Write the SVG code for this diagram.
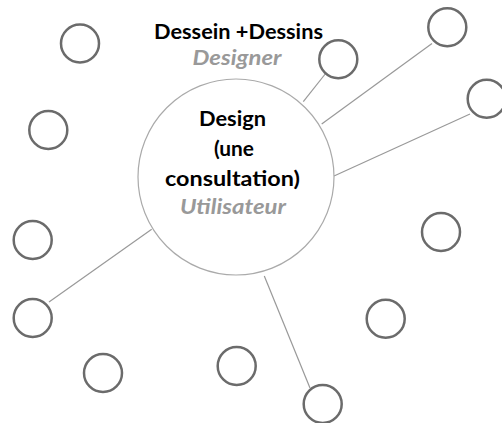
<svg xmlns="http://www.w3.org/2000/svg" width="502" height="423" viewBox="0 0 502 423">
<style>
.sm{fill:#fff;stroke:#6b6b6b;stroke-width:2.5}
.big{fill:#fff;stroke:#aaa;stroke-width:1.2}
.cn line{stroke:#999;stroke-width:1.2}
.t{font-family:Lato,"Liberation Sans",sans-serif;font-weight:bold;text-anchor:middle;font-size:20px;fill:#000}
.g{fill:#999;font-style:italic}
</style>
<rect width="502" height="423" fill="#fff"/>
<g class="cn">
<line x1="303.3" y1="101.7" x2="326" y2="73"/>
<line x1="321.7" y1="124" x2="432" y2="43.5"/>
<line x1="334" y1="176" x2="470" y2="114"/>
<line x1="151.7" y1="229.3" x2="49" y2="302"/>
<line x1="264.3" y1="276" x2="310" y2="388"/>
</g>
<g id="center">
<circle class="big" cx="236" cy="177" r="98"/>
<text class="t" x="232.5" y="126" textLength="67" lengthAdjust="spacingAndGlyphs">Design</text>
<text class="t" x="234" y="156" textLength="40" lengthAdjust="spacingAndGlyphs">(une</text>
<text class="t" x="232.5" y="186" textLength="135" lengthAdjust="spacingAndGlyphs">consultation)</text>
<text class="t g" x="233" y="214" textLength="106" lengthAdjust="spacingAndGlyphs">Utilisateur</text>
</g>
<g id="title">
<text class="t" x="238.5" y="39" font-size="19" textLength="169" lengthAdjust="spacingAndGlyphs">Dessein +Dessins</text>
<text class="t g" x="237" y="65" font-size="19" textLength="89" lengthAdjust="spacingAndGlyphs">Designer</text>
</g>
<g id="n1"><circle class="sm" cx="80" cy="43.5" r="19"/></g>
<g id="n2"><circle class="sm" cx="48.3" cy="130" r="19"/></g>
<g id="n3"><circle class="sm" cx="32.7" cy="240" r="19"/></g>
<g id="n4"><circle class="sm" cx="32.7" cy="318" r="19"/></g>
<g id="n5"><circle class="sm" cx="103" cy="373" r="19"/></g>
<g id="n6"><circle class="sm" cx="236.7" cy="366" r="19"/></g>
<g id="n7"><circle class="sm" cx="322.7" cy="404" r="19"/></g>
<g id="n8"><circle class="sm" cx="385.7" cy="318.7" r="19"/></g>
<g id="n9"><circle class="sm" cx="441" cy="232" r="19"/></g>
<g id="n10"><circle class="sm" cx="486.7" cy="98.7" r="19"/></g>
<g id="n11"><circle class="sm" cx="447.3" cy="27.3" r="19"/></g>
<g id="n12"><circle class="sm" cx="338.3" cy="59.3" r="19"/></g>
</svg>
